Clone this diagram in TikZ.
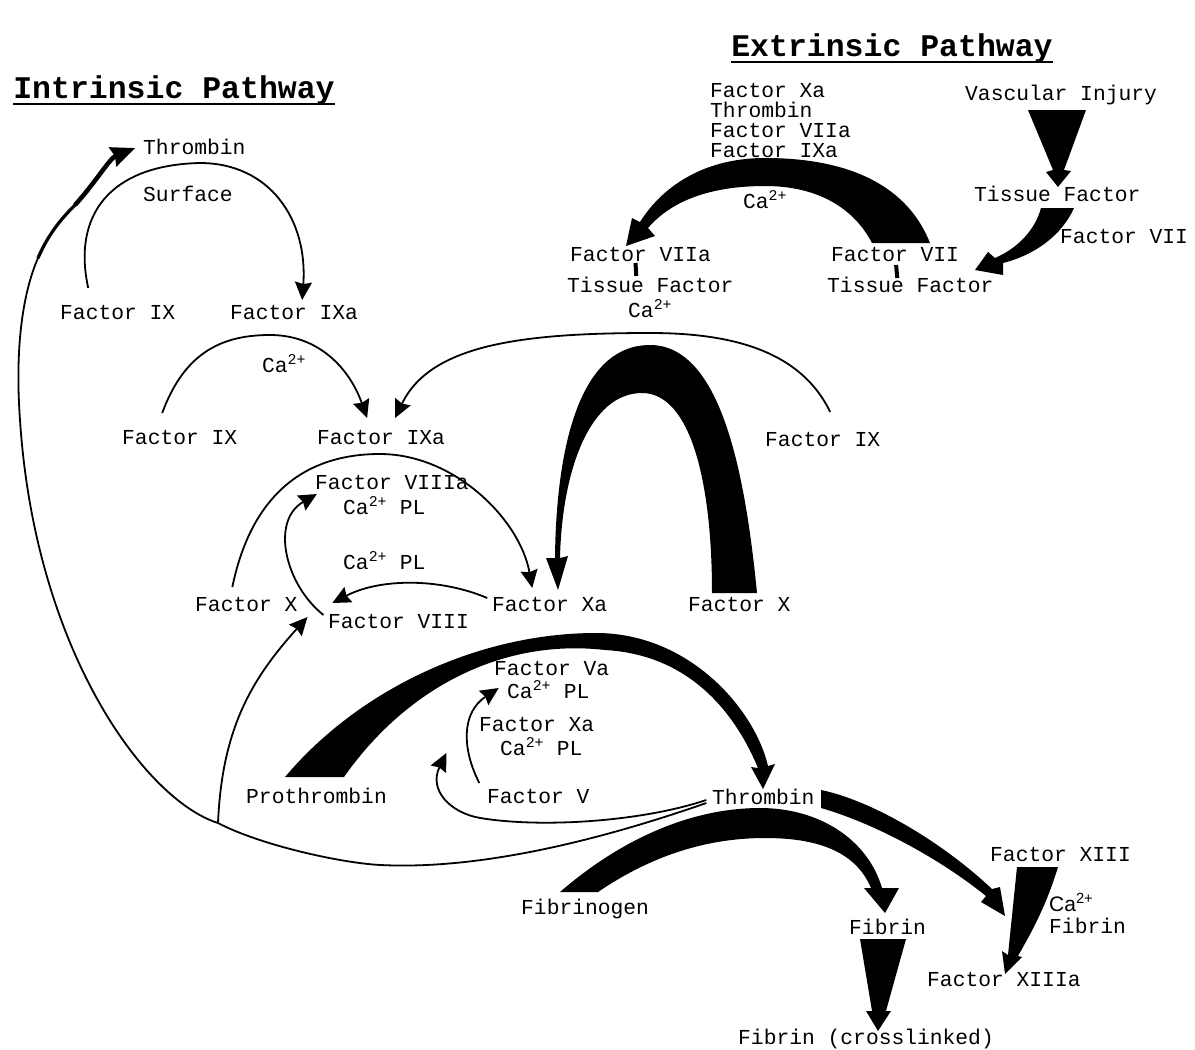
\documentclass[tikz,border=0pt]{standalone}
\usepackage{fontspec}
\setmonofont{Liberation Mono}
\newfontfamily\plainsans{Liberation Sans}
\usetikzlibrary{arrows.meta,calc}
\begin{document}
\begin{tikzpicture}[x=1pt,y=-1pt,
  lbl/.style={font=\ttfamily\fontsize{21.3}{24}\selectfont, inner sep=0pt, anchor=west, text height=12pt, text depth=0pt},
  ttl/.style={font=\ttfamily\bfseries\fontsize{31.5}{34}\selectfont, inner sep=0pt, anchor=base},
  conn/.style={line width=1.8pt, -{Stealth[length=18pt,width=17pt,inset=2pt]}},
  thin/.style={line width=1.8pt},
  band/.style={fill=black},
  bar/.style={line width=4pt},
]
\useasboundingbox (0,0) rectangle (1195,1050);

% ---------- titles ----------
\node[ttl] (ttlext) at (892,56) {Extrinsic Pathway};
\node[ttl] (ttlint) at (174,98) {Intrinsic Pathway};
\draw[line width=2pt] ($(ttlext.base west)+(0,6)$) -- ($(ttlext.base east)+(0,6)$);
\draw[line width=2pt] ($(ttlint.base west)+(0,6)$) -- ($(ttlint.base east)+(0,6)$);

% ---------- extrinsic labels ----------
\node[lbl] (kxa)   at (710,91)  {Factor Xa};
\node[lbl] (kth)   at (710,111) {Thrombin};
\node[lbl] (kviia) at (710,131) {Factor VIIa};
\node[lbl] (kixa)  at (710,151) {Factor IXa};
\node[lbl] (vinj)  at (965,94)  {Vascular Injury};
\node[lbl] (tf0)   at (974,195) {Tissue Factor};
\node[lbl] (fvii0) at (1060,237) {Factor VII};
\node[lbl, anchor=center] (caA) at (765,202) {Ca\textsuperscript{2+}};
\node[lbl] (fviia) at (570,255) {Factor VIIa};
\node[lbl] (tf1)   at (567,286) {Tissue Factor};
\node[lbl] (caB)   at (628,311) {Ca\textsuperscript{2+}};
\node[lbl] (fvii1) at (831,255) {Factor VII};
\node[lbl] (tf2)   at (827,286) {Tissue Factor};

% ---------- intrinsic labels ----------
\node[lbl] (thr0)  at (143,148) {Thrombin};
\node[lbl] (surf)  at (143,195) {Surface};
\node[lbl] (fix1)  at (60,313)  {Factor IX};
\node[lbl] (fixa1) at (230,313) {Factor IXa};
\node[lbl, anchor=center] (caC) at (284,366) {Ca\textsuperscript{2+}};
\node[lbl] (fix2)  at (122,438) {Factor IX};
\node[lbl] (fixa2) at (317,438) {Factor IXa};
\node[lbl] (fix3)  at (765,440) {Factor IX};
\node[lbl] (fviiia) at (315,483) {Factor VIIIa};
\node[lbl] (capl1) at (343,508) {Ca\textsuperscript{2+} PL};
\node[lbl] (capl2) at (343,563) {Ca\textsuperscript{2+} PL};
\node[lbl] (fx1)   at (195,605) {Factor X};
\node[lbl] (fxa1)  at (492,605) {Factor Xa};
\node[lbl] (fx2)   at (688,605) {Factor X};
\node[lbl] (fviii) at (328,622) {Factor VIII};
\node[lbl] (fva)   at (494,669) {Factor Va};
\node[lbl] (capl3) at (507,692) {Ca\textsuperscript{2+} PL};
\node[lbl] (fxa2)  at (479,725) {Factor Xa};
\node[lbl] (capl4) at (500,749) {Ca\textsuperscript{2+} PL};
\node[lbl] (proth) at (246,797) {Prothrombin};
\node[lbl] (fv)    at (487,797) {Factor V};
\node[lbl] (thr1)  at (712,798) {Thrombin};
\node[lbl] (fxiii) at (990,855) {Factor XIII};
\node[lbl, font=\plainsans\fontsize{21}{24}\selectfont] (caD) at (1049,905) {Ca\textsuperscript{2+}};
\node[lbl] (fib2)  at (1049,927) {Fibrin};
\node[lbl] (fbg)   at (521,908) {Fibrinogen};
\node[lbl] (fib1)  at (849,928) {Fibrin};
\node[lbl] (fxiiia) at (927,980) {Factor XIIIa};
\node[lbl] (fibx)  at (738,1038) {Fibrin (crosslinked)};

% ---------- tapered bands (extrinsic) ----------
% Factor VII -> Factor VIIa
\fill[band] (930,243) .. controls (905,180) and (840,158) .. (765,158)
  .. controls (700,158) and (660,190) .. (640,222) -- (632,218) -- (626,246) -- (655,236) -- (648,228)
  .. controls (672,200) and (712,186) .. (765,186) .. controls (820,186) and (855,210) .. (872,243) -- cycle;
% Vascular Injury -> Tissue Factor
\fill[band] (1028,110) -- (1086,110) -- (1064,170) -- (1071,171) -- (1058,187) -- (1046,172) -- (1053,170) -- cycle;
% Tissue Factor -> Factor VII / Tissue Factor
\fill[band] (1041,208) -- (1074,208) .. controls (1062,235) and (1035,255) .. (1003,263) -- (1003,275) -- (975,270)
  -- (988,252) -- (995,258) .. controls (1018,248) and (1035,230) .. (1041,208) -- cycle;
% complex bars
\draw[bar] ($(fviia)+(-5,8)$) -- ($(tf1)+(-14,-10)$);
\draw[bar] ($(fvii1)+(1,10)$) -- ($(tf2)+(-13,-8)$);

% ---------- tapered bands (intrinsic / common) ----------
% Factor X -> Factor Xa
\fill[band] (757,593) .. controls (745,470) and (720,345) .. (650,345) .. controls (575,345) and (556,460) .. (555,558)
  -- (546,558) -- (558,590) -- (568,556) -- (560,558)
  .. controls (562,470) and (590,393) .. (642,393) .. controls (690,393) and (712,480) .. (712,593) -- cycle;
% Prothrombin -> Thrombin
\fill[band] (285,777) .. controls (360,688) and (480,633) .. (596,633) .. controls (690,633) and (755,710) .. (768,766)
  -- (775,764) -- (763,789) -- (751,767) -- (758,768)
  .. controls (738,720) and (695,655) .. (605,650) .. controls (500,638) and (405,690) .. (344,777) -- cycle;
% Thrombin -> Factor XIIIa
\fill[band] (821,790) .. controls (870,800) and (940,840) .. (992,889) -- (1000,887) -- (1005,916) -- (981,902) -- (986,896)
  .. controls (935,855) and (870,822) .. (821,808) -- cycle;
% Fibrinogen -> Fibrin
\fill[band] (560,892) .. controls (620,840) and (690,808) .. (760,808) .. controls (820,808) and (868,840) .. (882,888)
  -- (899,888) -- (885,913) -- (864,888) -- (871,888)
  .. controls (855,850) and (815,838) .. (765,838) .. controls (700,838) and (645,860) .. (598,892) -- cycle;
% Fibrin -> Fibrin (crosslinked)
\fill[band] (860,939) -- (906,939) -- (886,1011) -- (891,1011) -- (878,1031) -- (866,1011) -- (872,1011) -- cycle;
% Factor XIII -> Factor XIIIa
\fill[band] (1017,867) -- (1058,867) .. controls (1045,910) and (1028,938) .. (1018,956) -- (1022,957) -- (1005,974)
  -- (1002,951) -- (1008,955) -- cycle;

% ---------- thin connectors ----------
\coordinate (jn) at (218,823);
\coordinate (k1) at (38,258);
\coordinate (k2) at (75,205);

% Factor IX -> Factor IXa (surface)
\draw[conn] ($(fix1)+(-29.5,-25)$) .. controls +(-16,-73) and +(-90,2) .. ($(surf)+(12,-32)$)
  .. controls +(70,0) and +(6,-80) .. ($(fixa1)+(8,-13)$);
% Factor IX -> Factor IXa (Ca)
\draw[conn] ($(fix2)+(-17.5,-25)$) .. controls +(23,-63) and +(-45,0) .. ($(caC)+(-14,-31)$)
  .. controls +(50,0) and +(-17,-48) .. ($(fixa2)+(-14,-20)$);
% Factor IX (right) -> Factor IXa
\draw[conn] ($(fix3)+(7.5,-28)$) .. controls +(-30,-62) and +(80,0) .. ($(fix3)+(-172.5,-107)$)
  .. controls +(-130,0) and +(35,-73) .. ($(fixa2)+(14,-20)$);
% Factor X -> Factor Xa
\draw[conn] ($(fx1)+(-14,-18)$) .. controls +(18,-87) and +(-80,0) .. ($(fviiia)+(-12,-29)$)
  .. controls +(75,0) and +(-12,-68) .. ($(fxa1)+(-17.5,-17)$);
% Factor VIII -> Factor VIIIa
\draw[conn] ($(fviii)+(-75,-7)$) .. controls +(-38,-30) and +(-47,27) .. ($(fviiia)+(-75,11)$);
% Factor Xa -> Factor X
\draw[conn] ($(fxa1)+(-62.5,-7)$) .. controls +(-47,-20) and +(48,-25) .. ($(fx1)+(86,-2)$);
% Thrombin feedback -> Factor VIII
\draw[conn] (jn) .. controls +(4,-93) and +(-57,63) .. ($(fviii)+(-91,-5)$);
% Thrombin -> Factor V activation
\draw[conn] ($(thr1)+(-57,2)$) .. controls +(-66,22) and +(60,10) .. ($(fv)+(-58,21)$)
  .. controls +(-30,-5) and +(-18,37) .. ($(fv)+(-92,-44)$);
% Thrombin -> feedback junction
\draw[thin] ($(thr1)+(-57,5)$) .. controls +(-106,37) and +(100,5) .. ($(proth)+(64,68)$)
  .. controls +(-40,-2) and +(42,22) .. (jn);
% Factor V -> Factor Va
\draw[conn] ($(fv)+(-59,-14)$) .. controls +(-17,-33) and +(-38,25) .. ($(fva)+(-53,19)$);
% long feedback loop to Thrombin (top)
\draw[thin] (jn) .. controls (145,800) and (35,650) .. (20,420) .. controls (15,350) and (22,295) .. (k1);
\draw[line width=3.2pt, line cap=round] (k1) .. controls (48,235) and (60,220) .. (k2);
\draw[line width=4.5pt, -{Stealth[length=24pt,width=20pt,inset=2pt]}] (k2) .. controls (95,183) and (110,158) .. ($(thr0)+(-59,0)$);

\end{tikzpicture}
\end{document}
